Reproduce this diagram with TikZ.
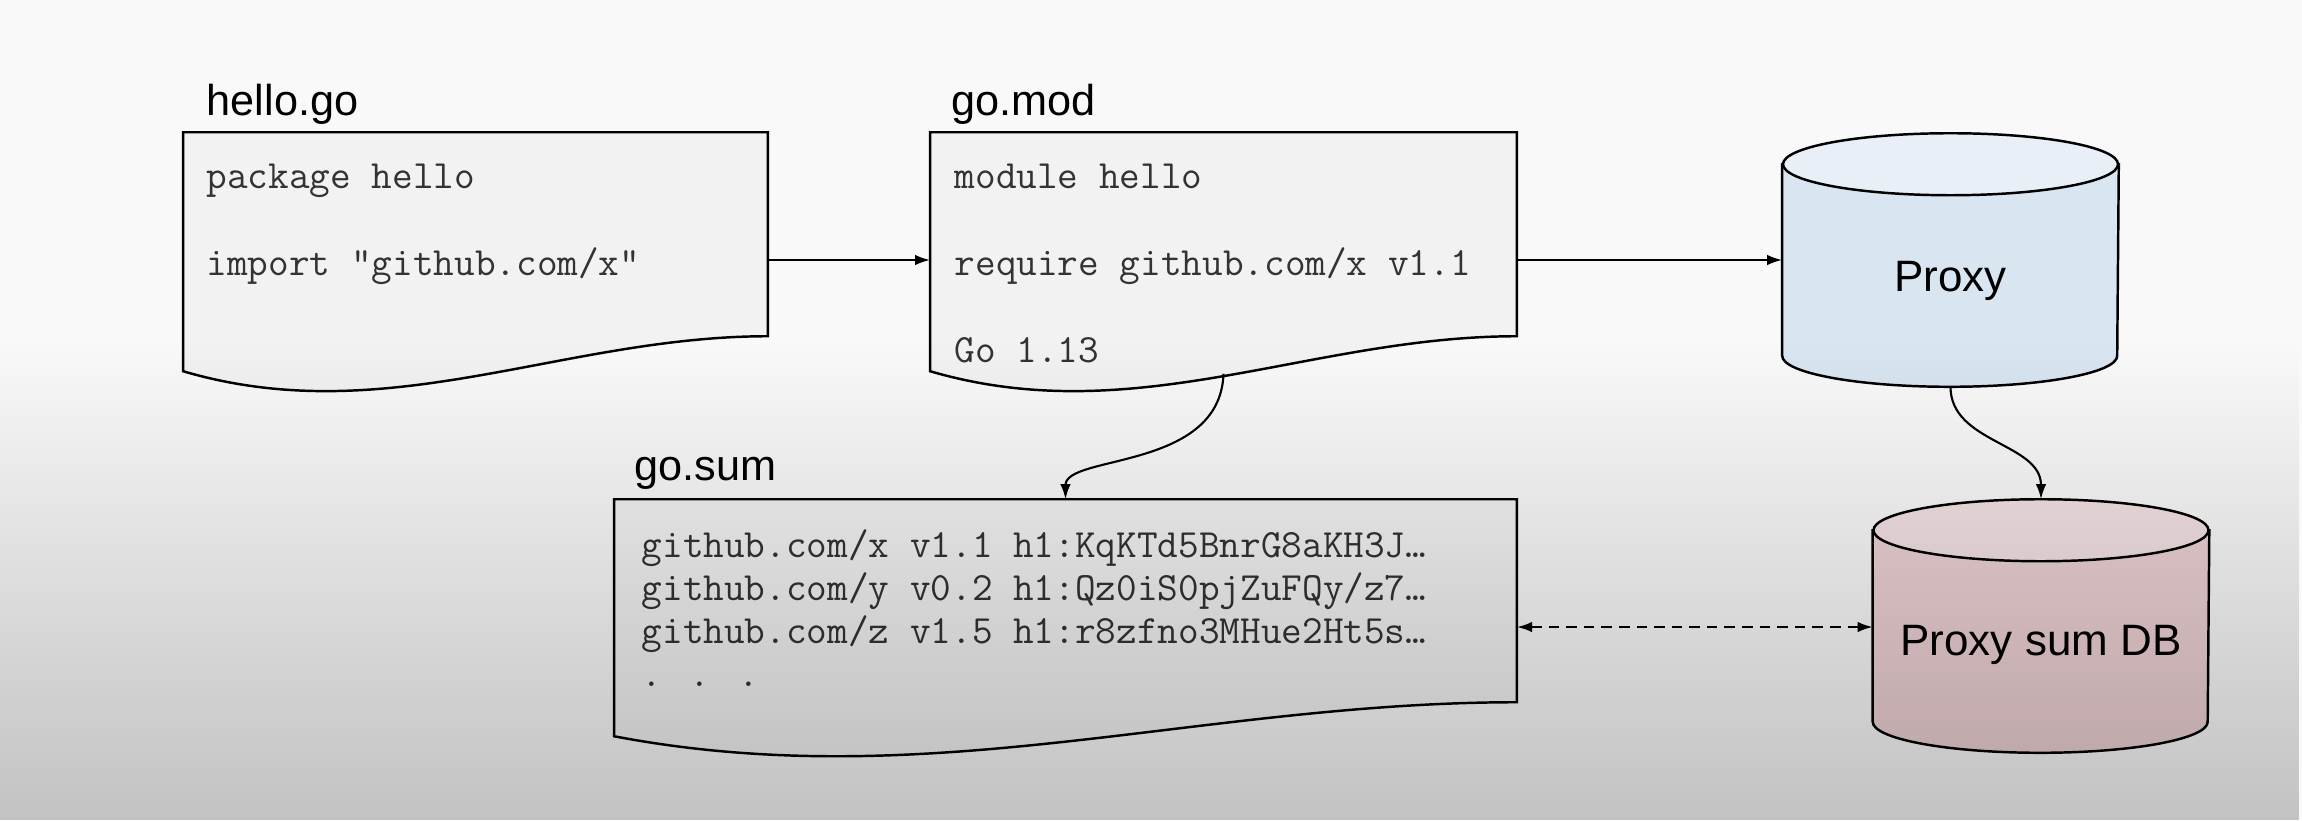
\documentclass[tikz,border=0pt]{standalone}
\usepackage{fontspec}
\setmainfont{Liberation Sans}
\usetikzlibrary{calc,arrows.meta,fadings}

\definecolor{bgtop}{HTML}{F9F9F9}
\definecolor{docfill}{HTML}{F2F2F2}
\definecolor{codegray}{HTML}{333333}
\definecolor{proxybody}{HTML}{D9E5F1}
\definecolor{proxytop}{HTML}{E8EFF7}
\definecolor{sumbody}{HTML}{EDD1D4}
\definecolor{sumtop}{HTML}{F5E2E4}

\tikzfading[name=fadedown, top color=transparent!100, bottom color=transparent!0]

\tikzset{
  docnode/.style={inner sep=0pt, minimum width=#1, minimum height=2.54cm},
  dbnode/.style={inner sep=0pt, minimum width=3.35cm, minimum height=2.52cm},
  docline/.style={line width=0.7pt, fill=docfill},
  cylline/.style={line width=0.7pt},
  title/.style={anchor=base west, inner sep=0pt, font=\fontsize{12.3}{14}\selectfont},
  code/.style={anchor=base west, inner sep=0pt, text=codegray, font=\ttfamily\fontsize{11.4}{13}\selectfont},
  dblabel/.style={inner sep=0pt, font=\fontsize{12.5}{15}\selectfont},
  arrow/.style={line width=0.6pt, -{Latex[length=4.3pt,width=3pt]}},
  dasharrow/.style={line width=0.6pt, dash pattern=on 3pt off 2pt,
    {Latex[length=4.3pt,width=3pt]}-{Latex[length=4.3pt,width=3pt]}}
}

\begin{document}
\begin{tikzpicture}[x=0.01cm, y=0.01cm]
        \fill[bgtop] (0,0) rectangle (2302,-820);
        \useasboundingbox (0,0) rectangle (2302,-820);

        % places of the files and of the two stores
        \node[docnode=5.83cm] (hello) at (475.5,-260) {};
        \node[docnode=5.85cm] (gomod) at (1223.5,-260) {};
        \node[docnode=9.01cm] (gosum) at (1065.5,-627) {};
        \node[dbnode] (proxy) at (1950.5,-260) {};
        \node[dbnode] (sumdb) at (2041,-626) {};

        % file outlines, wavy at the bottom
        \draw[docline] (hello.north west) -- (hello.north east) -- ($(hello.north east)+(0,-204)$)
          .. controls ($(hello.north west)+(379,-204)$) and ($(hello.north west)+(204,-299)$)
          .. ($(hello.north west)+(0,-239)$) -- cycle;
        \draw[docline] (gomod.north west) -- (gomod.north east) -- ($(gomod.north east)+(0,-204)$)
          .. controls ($(gomod.north west)+(380,-204)$) and ($(gomod.north west)+(205,-299)$)
          .. ($(gomod.north west)+(0,-239)$) -- cycle;
        \draw[docline] (gosum.north west) -- (gosum.north east) -- ($(gosum.north east)+(0,-203)$)
          .. controls ($(gosum.north west)+(586,-203)$) and ($(gosum.north west)+(315,-297)$)
          .. ($(gosum.north west)+(0,-237)$) -- cycle;

        % cylinders
        \draw[cylline, fill=proxybody] ($(proxy.north west)+(0,-31)$) -- ($(proxy.south west)+(0,31)$)
          arc[start angle=180, end angle=360, x radius=167.5, y radius=31]
          -- ($(proxy.north east)+(0,-31)$) -- cycle;
        \draw[cylline, fill=proxytop] ($(proxy.north)+(0,-31)$) ellipse[x radius=167.5, y radius=31];
        \draw[cylline, fill=sumbody] ($(sumdb.north west)+(0,-31)$) -- ($(sumdb.south west)+(0,31)$)
          arc[start angle=180, end angle=360, x radius=167.5, y radius=31]
          -- ($(sumdb.north east)+(0,-31)$) -- cycle;
        \draw[cylline, fill=sumtop] ($(sumdb.north)+(0,-31)$) ellipse[x radius=167.5, y radius=31];
        \node[dblabel] (proxytext) at ($(proxy)+(0,-21)$) {Proxy};
        \node[dblabel] (sumdbtext) at ($(sumdb)+(0,-19)$) {Proxy sum DB};

        % titles
        \node[title] (hellotitle) at (206,-115) {hello.go};
        \node[title] (gomodtitle) at (951,-115) {go.mod};
        \node[title] (gosumtitle) at (634,-480) {go.sum};

        % file contents
        \node[code] (hello1) at (206,-188) {package hello};
        \node[code] (hello2) at (206,-275) {import "github.com/x"};
        \node[code] (gomod1) at (954,-188) {module hello};
        \node[code] (gomod2) at (954,-275) {require github.com/x v1.1};
        \node[code] (gomod3) at (954,-362) {Go 1.13};
        \node[code] (gosum1) at (641,-557) {github.com/x v1.1 h1:KqKTd5BnrG8aKH3J…};
        \node[code] (gosum2) at (641,-600) {github.com/y v0.2 h1:Qz0iS0pjZuFQy/z7…};
        \node[code] (gosum3) at (641,-643) {github.com/z v1.5 h1:r8zfno3MHue2Ht5s…};
        \node[code] (gosum4) at (641,-686) {. . .};

        % connectors
        \draw[arrow] (hello.east) -- (gomod.west);
        \draw[arrow] (gomod.east) -- (proxy.west);
        \draw[arrow] ([yshift=0.14cm]gomod.south) to[out=-92, in=90, out distance=0.97cm, in distance=0.45cm] (gosum.north);
        \draw[arrow] (proxy.south) to[out=-90, in=90] (sumdb.north);
        \draw[dasharrow] (gosum.east) -- (gosum.east -| sumdb.west);

        % darker towards the bottom
        \fill[black, opacity=0.22, path fading=fadedown] (0,-340) rectangle (2302,-820);
\end{tikzpicture}
\end{document}
